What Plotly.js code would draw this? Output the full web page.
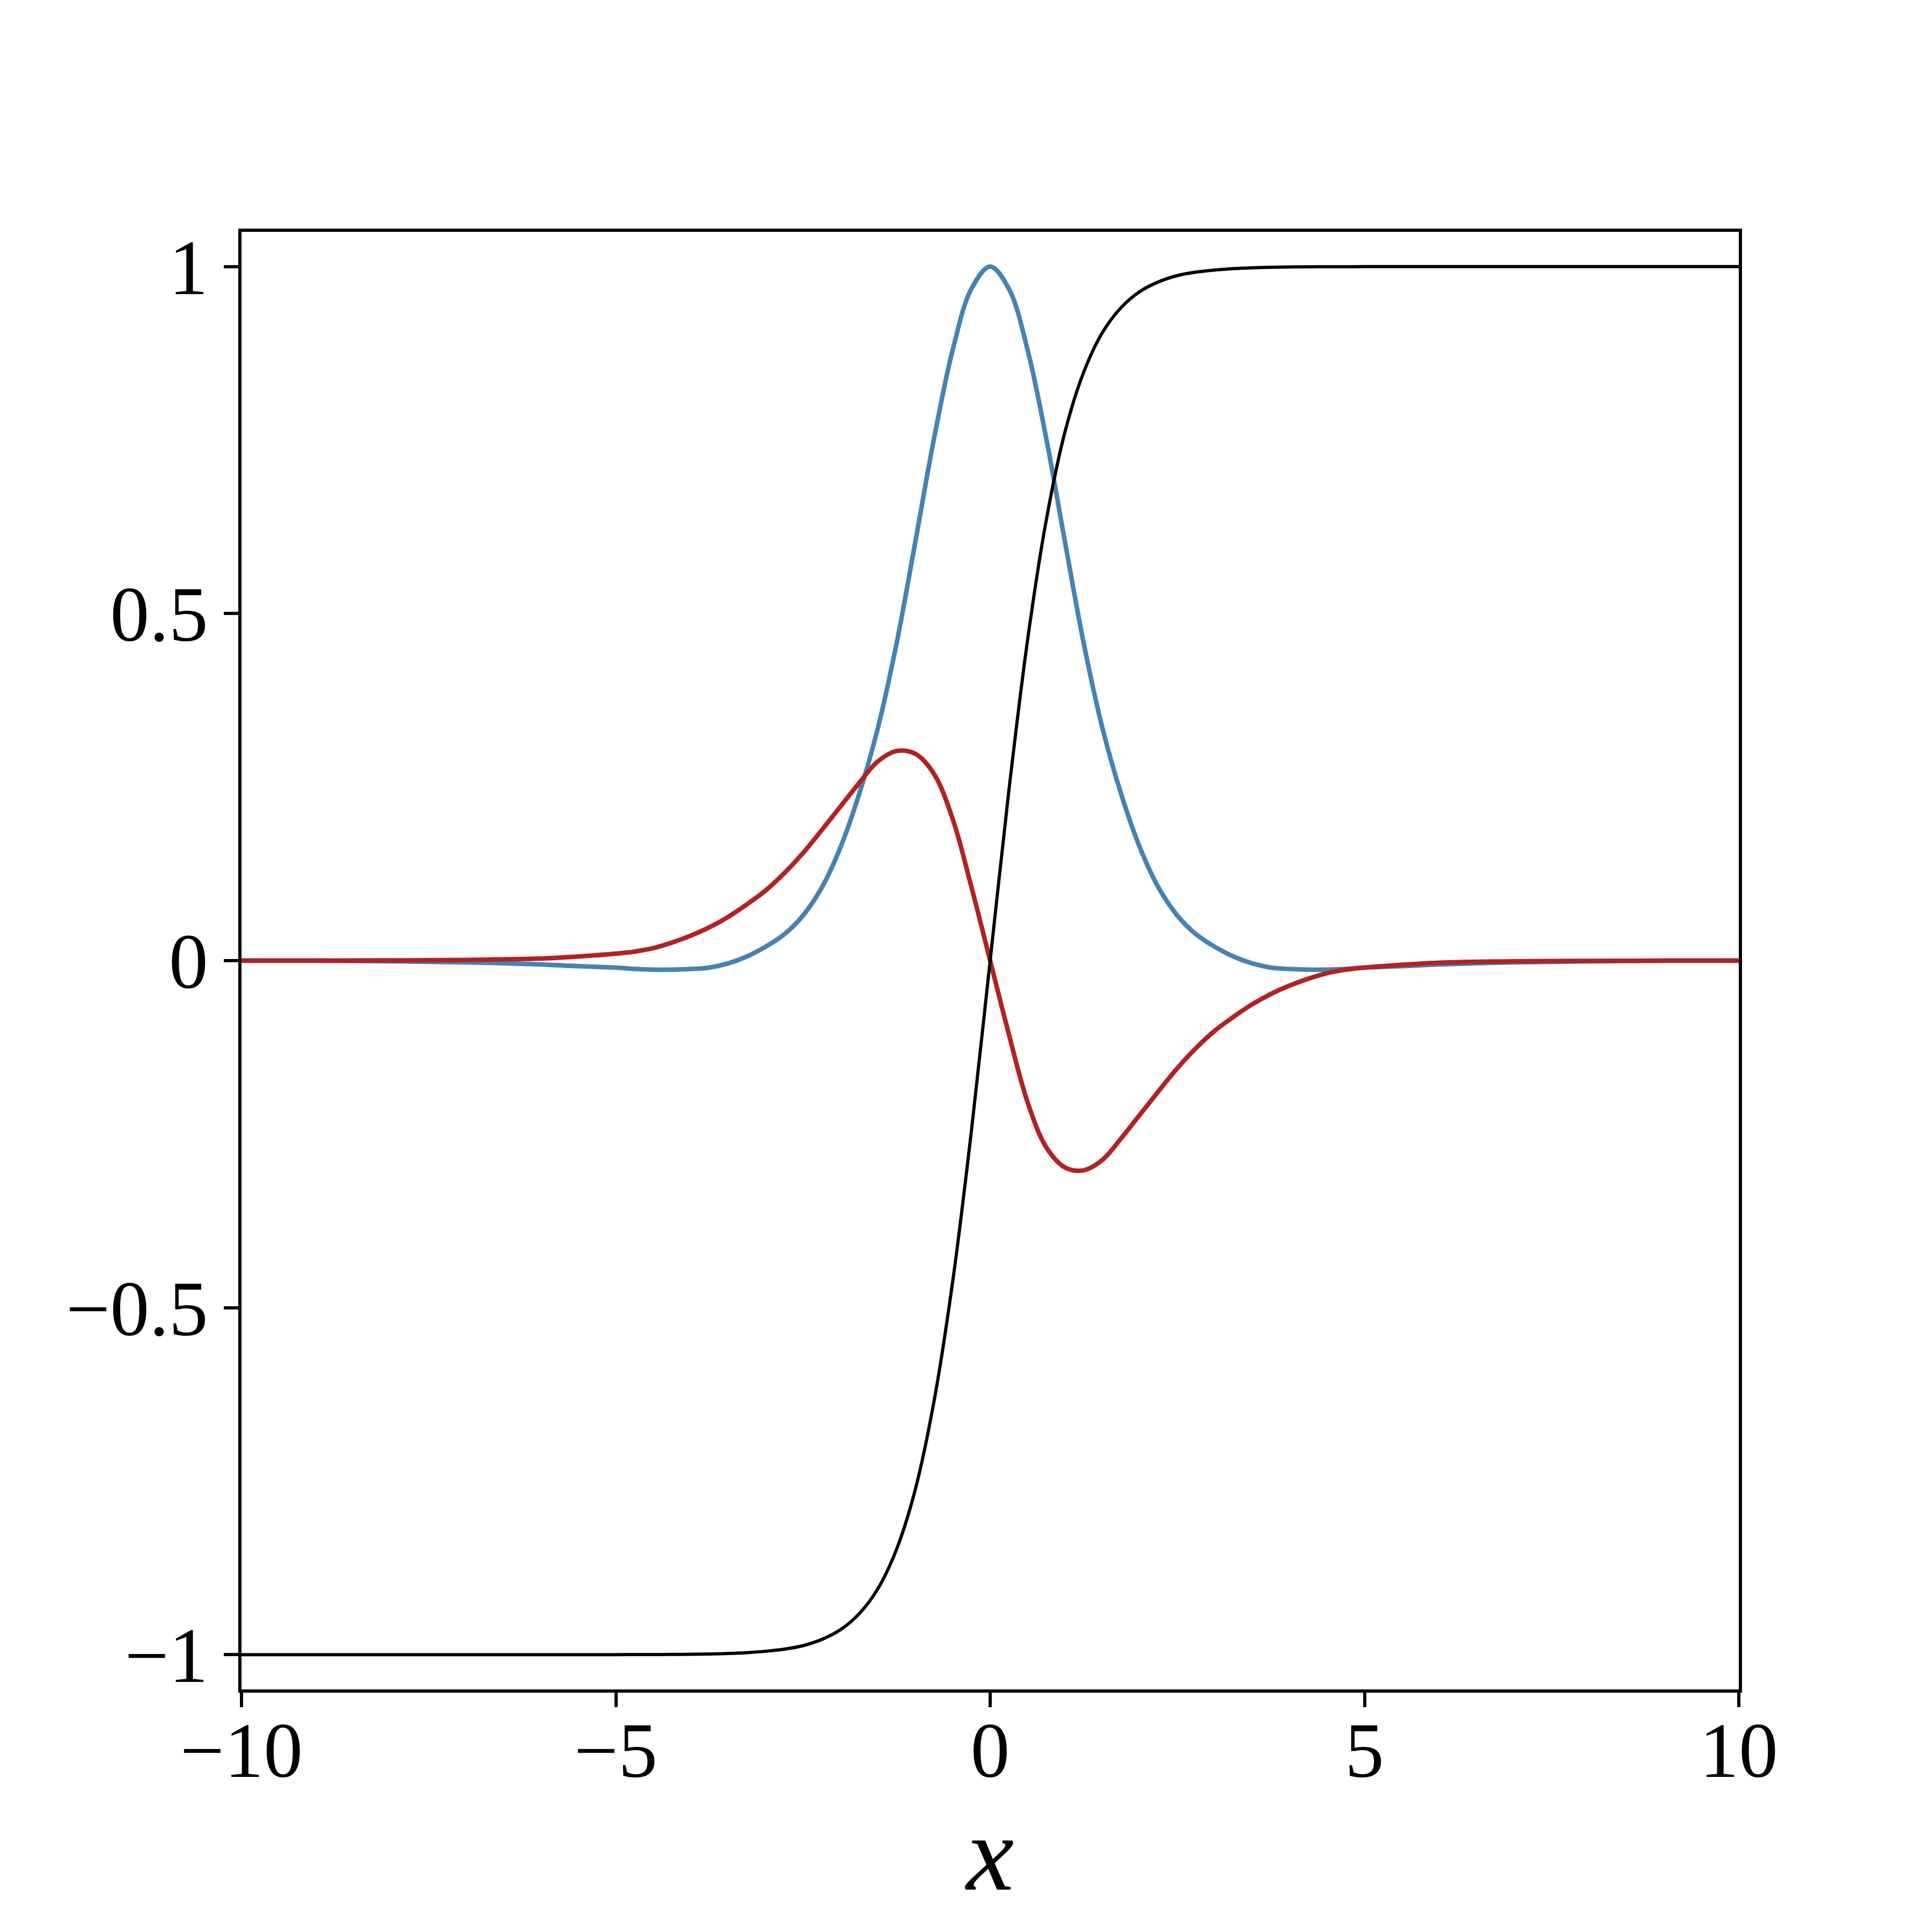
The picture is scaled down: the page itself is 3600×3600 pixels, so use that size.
<!DOCTYPE html>
<html>
<head>
<meta charset="utf-8">
<script src="https://cdn.plot.ly/plotly-3.0.1.min.js"></script>
<style>
  html, body { margin: 0; padding: 0; background: #ffffff; }
  #chart { width: 3600px; height: 3600px; }
</style>
</head>
<body>
<div id="chart"></div>
<script>
/* Three curves on x in [-10, 10]: a steep black step from -1 to 1, a blue
   bump peaking at 1 with shallow negative lobes, and a red odd wiggle.
   Values. */

// shared sample positions (quarter steps through the busy middle)
var xs = [
  -10, -9, -8, -7, -6, -5.5,
  -5, -4.75, -4.5, -4.25, -4, -3.75, -3.5, -3.25, -3, -2.75, -2.5, -2.25,
  -2, -1.75, -1.5, -1.25, -1, -0.75, -0.5, -0.25, 0,
  0.25, 0.5, 0.75, 1, 1.25, 1.5, 1.75, 2,
  2.25, 2.5, 2.75, 3, 3.25, 3.5, 3.75, 4, 4.25, 4.5, 4.75, 5,
  5.5, 6, 7, 8, 9, 10
];

var blackVals = [
  -1, -1, -1, -1, -1, -1,
  -0.9999, -0.9998, -0.9998, -0.9996, -0.9993, -0.9989, -0.9982, -0.997, -0.995, -0.992, -0.987, -0.978,
  -0.964, -0.941, -0.905, -0.848, -0.762, -0.635, -0.462, -0.245, 0,
  0.245, 0.462, 0.635, 0.762, 0.848, 0.905, 0.941, 0.964,
  0.978, 0.987, 0.992, 0.995, 0.997, 0.9982, 0.9989, 0.9993, 0.9996, 0.9998, 0.9998, 0.9999,
  1, 1, 1, 1, 1, 1
];

var blueVals = [
  0, 0, -0.001, -0.0025, -0.0055, -0.008,
  -0.010, -0.012, -0.013, -0.013, -0.012, -0.010, -0.004, 0.006, 0.020, 0.038, 0.065, 0.105,
  0.163, 0.240, 0.335, 0.457, 0.603, 0.752, 0.880, 0.968, 1.0,
  0.968, 0.880, 0.752, 0.603, 0.457, 0.335, 0.240, 0.163,
  0.105, 0.065, 0.038, 0.020, 0.006, -0.004, -0.010, -0.012, -0.013, -0.013, -0.012, -0.010,
  -0.008, -0.0055, -0.0025, -0.001, 0, 0
];

var redVals = [
  0, 0, 0.0003, 0.001, 0.003, 0.006,
  0.010, 0.013, 0.018, 0.026, 0.036, 0.048, 0.063, 0.081, 0.101, 0.126, 0.155, 0.188,
  0.222, 0.256, 0.287, 0.302, 0.298, 0.269, 0.204, 0.106, 0,
  -0.106, -0.204, -0.269, -0.298, -0.302, -0.287, -0.256, -0.222,
  -0.188, -0.155, -0.126, -0.101, -0.081, -0.063, -0.048, -0.036, -0.026, -0.018, -0.013, -0.010,
  -0.006, -0.003, -0.001, -0.0003, 0, 0
];

var xTicks = [-10, -5, 0, 5, 10];
var yTicks = [-1, -0.5, 0, 0.5, 1];

(function () {
  "use strict";

  var FONT = "Liberation Serif, Times New Roman, serif";

  function curve(y, color, width) {
    return {
      type: "scatter",
      mode: "lines",
      x: xs,
      y: y,
      line: { color: color, width: width, shape: "spline", smoothing: 1, simplify: false },
      hoverinfo: "skip",
      showlegend: false
    };
  }

  // blue under red under black, as in the picture
  var traces = [
    curve(blueVals, "#4682b4", 8.5),
    curve(redVals, "#b22222", 8.5),
    curve(blackVals, "#000000", 6)
  ];

  var axisCommon = {
    showline: true,
    mirror: true,
    linecolor: "#000000",
    linewidth: 6,
    ticks: "outside",
    ticklen: 27,
    tickwidth: 6,
    tickcolor: "#000000",
    showgrid: false,
    zeroline: false,
    tickfont: { family: FONT, size: 146, color: "#000000" }
  };

  var layout = {
    width: 3600,
    height: 3600,
    paper_bgcolor: "#ffffff",
    plot_bgcolor: "#ffffff",
    margin: { l: 450, r: 360, t: 432, b: 452 },
    font: { family: FONT, color: "#000000" },
    xaxis: Object.assign({}, axisCommon, {
      range: [-10, 10],
      tickvals: xTicks,
      ticklabelstandoff: -45,
      title: { text: "<i>x</i>", font: { family: FONT, size: 200, color: "#000000" }, standoff: 35 }
    }),
    yaxis: Object.assign({}, axisCommon, {
      range: [-1.05, 1.05],
      tickvals: yTicks
    })
  };

  Plotly.newPlot("chart", traces, layout, { displayModeBar: false, staticPlot: true });
})();
</script>
</body>
</html>
